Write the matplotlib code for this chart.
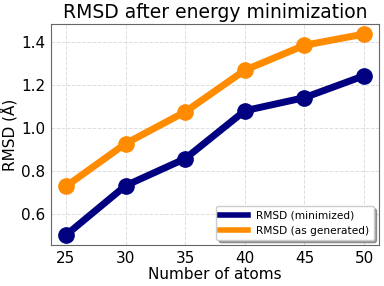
import matplotlib
matplotlib.use("Agg")
import matplotlib.pyplot as plt
from matplotlib.lines import Line2D

atoms = [25, 30, 35, 40, 45, 50]
rmsd_min = [0.50, 0.73, 0.856, 1.079, 1.14, 1.242]
rmsd_gen = [0.727, 0.926, 1.074, 1.268, 1.384, 1.436]

fig, ax = plt.subplots(figsize=(3.84, 2.86), dpi=100)
ax.plot(atoms, rmsd_min, color="navy", lw=5, marker="o", ms=11)
ax.plot(atoms, rmsd_gen, color="darkorange", lw=5, marker="o", ms=11)
ax.set_title("RMSD after energy minimization", fontsize=13.5, pad=4)
ax.set_xlabel("Number of atoms", fontsize=11, labelpad=1)
ax.set_ylabel("RMSD (Å)", fontsize=11, labelpad=3)
ax.tick_params(labelsize=11, length=0, pad=4)
ax.set_xticks(atoms)
ax.grid(True, linestyle="--", color="#dddddd", linewidth=0.7)
for s in ax.spines.values():
    s.set_color("#666666")
handles = [Line2D([], [], color="navy", lw=4), Line2D([], [], color="darkorange", lw=4)]
ax.legend(handles, ["RMSD (minimized)", "RMSD (as generated)"], loc="lower right",
          fontsize=7.6, shadow=True, handlelength=2.6, borderaxespad=0.5)
fig.subplots_adjust(left=0.133, right=0.987, top=0.916, bottom=0.143)
fig.savefig("out.png")
